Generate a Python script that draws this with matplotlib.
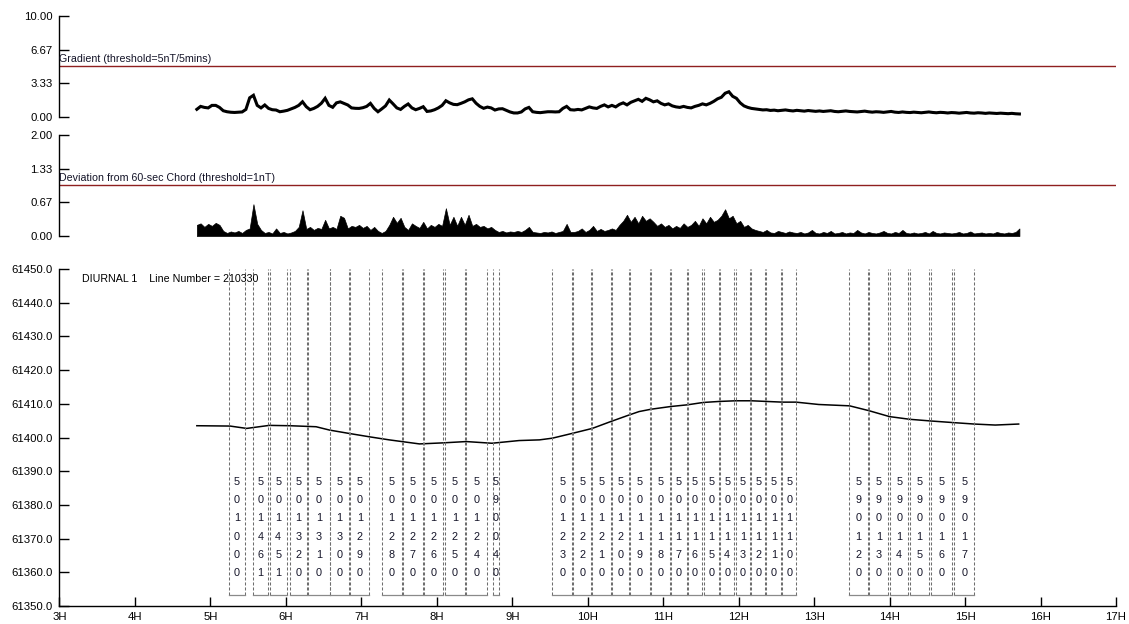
import matplotlib
matplotlib.use("Agg")
import matplotlib.pyplot as plt

plt.rcParams['font.family'] = ['Liberation Sans', 'DejaVu Sans']
plt.rcParams['lines.scale_dashes'] = False

# Both QC channels are sampled every 3 minutes from 04:49 to 15:43
qc_start_h = 4.82
qc_step_h = 0.05

# ---- Gradient (nT / 5 min) ----
grad_v = [0.76, 1.05, 0.95, 0.90, 1.15, 1.15, 0.95, 0.62, 0.52, 0.47,
          0.45, 0.47, 0.50, 0.75, 1.90, 2.15, 1.15, 0.90, 1.19, 0.85,
          0.72, 0.69, 0.52, 0.58, 0.66, 0.80, 0.95, 1.15, 1.51, 1.02,
          0.72, 0.85, 1.05, 1.36, 1.85, 1.15, 0.96, 1.40, 1.50, 1.35,
          1.19, 0.90, 0.86, 0.85, 0.92, 1.05, 1.35, 0.85, 0.52, 0.80,
          1.10, 1.68, 1.30, 0.90, 0.75, 1.05, 1.29, 0.90, 0.72, 0.85,
          1.02, 0.55, 0.60, 0.72, 0.90, 1.15, 1.61, 1.40, 1.25, 1.22,
          1.35, 1.50, 1.70, 1.80, 1.36, 1.05, 0.86, 0.98, 0.90, 0.69,
          0.80, 0.82, 0.66, 0.50, 0.40, 0.40, 0.50, 0.80, 0.95, 0.52,
          0.46, 0.43, 0.48, 0.52, 0.52, 0.50, 0.52, 0.85, 1.05, 0.72,
          0.69, 0.75, 0.70, 0.85, 1.00, 0.90, 0.85, 1.05, 1.20, 1.00,
          1.15, 1.00, 1.25, 1.40, 1.20, 1.45, 1.60, 1.75, 1.55, 1.85,
          1.70, 1.50, 1.60, 1.35, 1.20, 1.30, 1.10, 1.00, 0.95, 1.05,
          0.95, 0.90, 1.05, 1.15, 1.30, 1.20, 1.35, 1.55, 1.80, 1.95,
          2.35, 2.50, 2.05, 1.85, 1.40, 1.10, 0.95, 0.85, 0.80, 0.75,
          0.70, 0.72, 0.65, 0.68, 0.62, 0.66, 0.70, 0.64, 0.60, 0.66,
          0.62, 0.58, 0.64, 0.60, 0.56, 0.60, 0.55, 0.58, 0.62, 0.55,
          0.52, 0.56, 0.60, 0.55, 0.52, 0.50, 0.54, 0.58, 0.52, 0.48,
          0.52, 0.50, 0.46, 0.50, 0.55, 0.48, 0.45, 0.50, 0.46, 0.44,
          0.48, 0.45, 0.42, 0.46, 0.50, 0.45, 0.42, 0.46, 0.44, 0.40,
          0.44, 0.42, 0.38, 0.42, 0.45, 0.40, 0.38, 0.42, 0.40, 0.36,
          0.40, 0.38, 0.35, 0.38, 0.36, 0.33, 0.36, 0.32, 0.30]

# ---- Deviation from 60-sec chord (nT) ----
dev_v = [0.22, 0.25, 0.18, 0.24, 0.20, 0.26, 0.22, 0.10, 0.06, 0.09,
         0.07, 0.10, 0.06, 0.12, 0.15, 0.63, 0.24, 0.12, 0.06, 0.08,
         0.05, 0.15, 0.06, 0.08, 0.05, 0.07, 0.10, 0.18, 0.51, 0.14,
         0.18, 0.12, 0.16, 0.14, 0.32, 0.15, 0.18, 0.14, 0.40, 0.36,
         0.15, 0.20, 0.18, 0.22, 0.16, 0.20, 0.12, 0.18, 0.10, 0.06,
         0.10, 0.22, 0.38, 0.26, 0.36, 0.18, 0.12, 0.25, 0.20, 0.16,
         0.28, 0.15, 0.22, 0.18, 0.24, 0.20, 0.55, 0.22, 0.38, 0.20,
         0.38, 0.22, 0.42, 0.20, 0.24, 0.18, 0.20, 0.15, 0.18, 0.12,
         0.08, 0.10, 0.07, 0.09, 0.08, 0.10, 0.08, 0.12, 0.18, 0.08,
         0.07, 0.06, 0.08, 0.07, 0.09, 0.06, 0.08, 0.10, 0.24, 0.08,
         0.08, 0.10, 0.15, 0.08, 0.12, 0.20, 0.10, 0.14, 0.10, 0.12,
         0.15, 0.12, 0.22, 0.30, 0.42, 0.28, 0.38, 0.25, 0.40, 0.30,
         0.35, 0.28, 0.20, 0.25, 0.18, 0.22, 0.15, 0.20, 0.16, 0.25,
         0.18, 0.22, 0.30, 0.20, 0.35, 0.25, 0.38, 0.28, 0.32, 0.40,
         0.53, 0.35, 0.40, 0.25, 0.30, 0.18, 0.22, 0.15, 0.12, 0.10,
         0.08, 0.12, 0.07, 0.06, 0.10, 0.08, 0.06, 0.09, 0.07, 0.06,
         0.08, 0.05, 0.07, 0.12, 0.06, 0.05, 0.08, 0.06, 0.10, 0.05,
         0.06, 0.08, 0.05, 0.07, 0.06, 0.12, 0.07, 0.05, 0.08, 0.06,
         0.05, 0.07, 0.10, 0.06, 0.05, 0.08, 0.06, 0.12, 0.06, 0.05,
         0.07, 0.05, 0.06, 0.08, 0.05, 0.10, 0.06, 0.05, 0.07, 0.06,
         0.05, 0.06, 0.08, 0.05, 0.06, 0.09, 0.05, 0.06, 0.07, 0.05,
         0.06, 0.05, 0.08, 0.06, 0.05, 0.07, 0.06, 0.08, 0.15]

# ---- Diurnal base station (nT) ----
diurnal_t = [4.82, 5.26, 5.48, 5.78, 6.05, 6.40, 6.58, 6.84, 7.11, 7.37, 7.77,
             8.07, 8.39, 8.73, 9.09, 9.36, 9.53, 9.79, 10.06, 10.30, 10.55, 10.68,
             10.84, 11.10, 11.32, 11.53, 11.74, 11.96, 12.17, 12.37, 12.58, 12.76,
             13.06, 13.47, 13.72, 14.00, 14.27, 14.55, 14.86, 15.12, 15.40, 15.71]
diurnal_v = [61403.5, 61403.4, 61402.7, 61403.6, 61403.5, 61403.2, 61402.2,
             61401.2, 61400.2, 61399.3, 61398.1, 61398.4, 61398.8, 61398.3,
             61399.1, 61399.3, 61399.8, 61401.2, 61402.7, 61404.7, 61406.7,
             61407.7, 61408.4, 61409.2, 61409.7, 61410.4, 61410.7, 61410.9,
             61410.9, 61410.7, 61410.5, 61410.5, 61409.8, 61409.4, 61408.0,
             61406.2, 61405.4, 61404.9, 61404.4, 61404.0, 61403.7, 61404.0]

# ---- Survey lines flown (start / end, decimal hours) ----
line_ids = ['501000', '501461', '501451', '501320', '501310', '501300', '501290',
            '501280', '501270', '501260', '501250', '501240', '590040',
            '501230', '501220', '501210', '501200', '501190', '501180', '501170',
            '501160', '501150', '501140', '501130', '501120', '501110', '501100',
            '590120', '590130', '590140', '590150', '590160', '590170']
line_start = [5.246, 5.563, 5.784, 6.050, 6.296, 6.591, 6.852, 7.270, 7.548,
              7.825, 8.103, 8.390, 8.738, 9.532, 9.809, 10.061, 10.317, 10.559,
              10.836, 11.101, 11.323, 11.534, 11.751, 11.958, 12.169, 12.368,
              12.579, 13.466, 13.730, 14.003, 14.267, 14.545, 14.858]
line_end = [5.458, 5.767, 6.013, 6.278, 6.578, 6.833, 7.107, 7.534, 7.812,
            8.086, 8.377, 8.659, 8.827, 9.796, 10.048, 10.304, 10.546, 10.823,
            11.087, 11.309, 11.516, 11.737, 11.944, 12.156, 12.354, 12.566,
            12.759, 13.712, 13.985, 14.250, 14.528, 14.823, 15.122]

hour_ticks = list(range(3, 18))
hour_labels = [f"{h}H" for h in hour_ticks]

grad_t = [qc_start_h + qc_step_h * i for i in range(len(grad_v))]
dev_t = [qc_start_h + qc_step_h * i for i in range(len(dev_v))]

TXT = '#141428'
RED = '#8f2020'
FS = 8.2

fig = plt.figure(figsize=(11.29, 6.24), dpi=100)
left, width = 0.0527, 0.9358
ax1 = fig.add_axes([left, 0.8125, width, 0.1619])
ax2 = fig.add_axes([left, 0.6218, width, 0.1619])
ax3 = fig.add_axes([left, 0.0288, width, 0.5401])

for ax in (ax1, ax2, ax3):
    ax.set_xlim(3, 17)
    for s in ('top', 'right'):
        ax.spines[s].set_visible(False)
    ax.spines['left'].set_linewidth(1.0)
    ax.tick_params(axis='y', direction='in', length=7.2, width=1.0, pad=5,
                   labelsize=FS, colors='black')
for ax in (ax1, ax2):
    ax.spines['bottom'].set_visible(False)
    ax.set_xticks([])

# Gradient panel
ax1.set_ylim(0, 10)
ax1.set_yticks([0, 10 / 3, 20 / 3, 10])
ax1.set_yticklabels(['0.00', '3.33', '6.67', '10.00'])
ax1.axhline(5, color=RED, lw=1.0)
ax1.text(3.0, 5.25, 'Gradient (threshold=5nT/5mins)', fontsize=7.7, color=TXT,
         ha='left', va='bottom')
ax1.plot(grad_t, grad_v, color='black', lw=2.2, solid_joinstyle='miter')

# Deviation panel
ax2.set_ylim(0, 2)
ax2.set_yticks([0, 2 / 3, 4 / 3, 2])
ax2.set_yticklabels(['0.00', '0.67', '1.33', '2.00'])
ax2.axhline(1, color=RED, lw=1.0)
ax2.text(3.0, 1.05, 'Deviation from 60-sec Chord (threshold=1nT)', fontsize=7.7,
         color=TXT, ha='left', va='bottom')
ax2.fill_between(dev_t, 0, dev_v, color='black', lw=0.5)

# Diurnal panel
ax3.set_ylim(61350, 61450)
ax3.set_yticks(range(61350, 61451, 10))
ax3.set_yticklabels([f"{v:.1f}" for v in range(61350, 61451, 10)])
ax3.set_xticks(hour_ticks)
ax3.set_xticklabels(hour_labels)
ax3.tick_params(axis='x', direction='in', length=6.5, width=1.0, pad=4,
                labelsize=FS)
ax3.spines['bottom'].set_linewidth(1.0)

ax3.text(0.0215, 0.985, 'DIURNAL 1    Line Number = 210330', transform=ax3.transAxes,
         fontsize=7.7, color='black', ha='left', va='top')

ax3.plot(diurnal_t, diurnal_v, color='black', lw=1.1)

bottom_y = 61353.3
row_y0, row_dy = 61386.9, 5.43
for lid, t0, t1 in zip(line_ids, line_start, line_end):
    for t in (t0, t1):
        ax3.plot([t, t], [bottom_y, 61450], color='#6e6e6e', lw=0.75,
                 dashes=(2.2, 1.4))
    ax3.plot([t0, t1], [bottom_y, bottom_y], color='#8a8a8a', lw=0.9)
    xc = 0.5 * (t0 + t1)
    for k, ch in enumerate(lid):
        ax3.text(xc, row_y0 - k * row_dy, ch, fontsize=7.8, color=TXT,
                 ha='center', va='center')

fig.savefig('out.png', dpi=100)
